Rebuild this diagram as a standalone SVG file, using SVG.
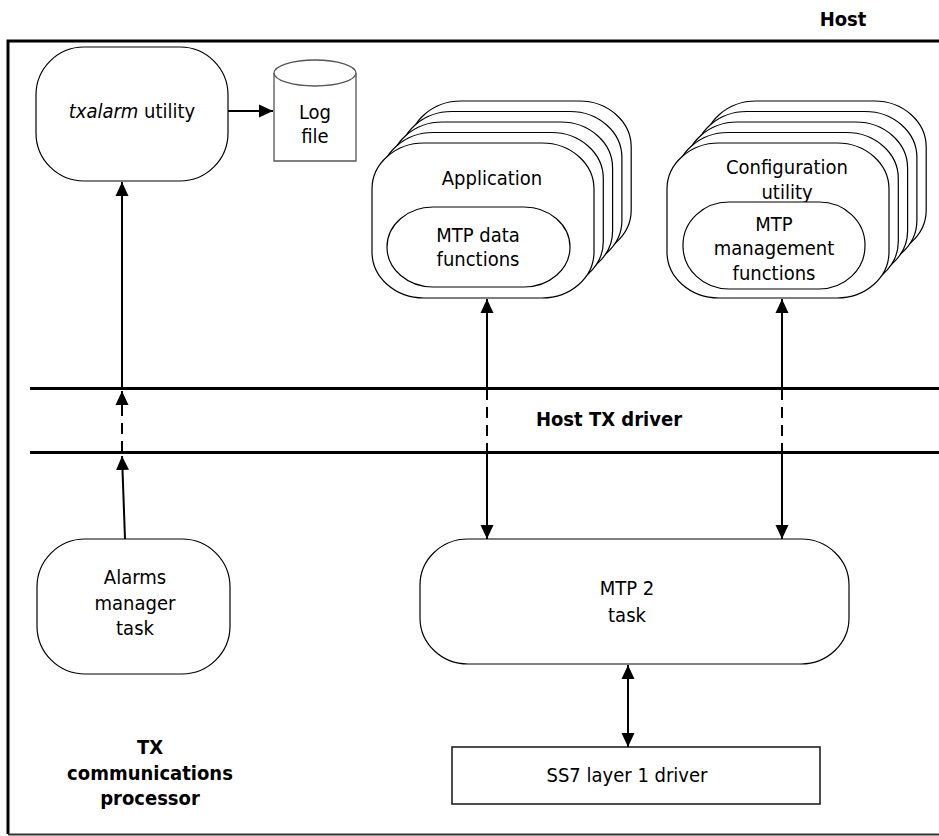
<svg xmlns="http://www.w3.org/2000/svg" width="939" height="836" viewBox="0 0 939 836">
<style>
text{font-family:"DejaVu Sans Condensed","DejaVu Sans","Liberation Sans",sans-serif;font-size:20px;fill:#000;text-anchor:middle}
.b{font-weight:bold}
.node{fill:#fff;stroke:#000;stroke-width:1.2}
.card{fill:#fff;stroke:#000;stroke-width:1.2}
.con{fill:none;stroke:#000;stroke-width:2}
.dash{stroke-dasharray:11 7}
.band{stroke:#000;stroke-width:3}
</style>
<defs>
<marker id="ah" markerUnits="userSpaceOnUse" viewBox="0 0 14 14" refX="14" refY="7" markerWidth="14" markerHeight="14" orient="auto-start-reverse">
<path d="M0,0.5 L14,7 L0,13.5 Z" fill="#000"/>
</marker>
</defs>
<rect x="0" y="0" width="939" height="836" fill="#fff"/>
<g id="frame">
<path d="M945,41 L8,41 L8,834" fill="none" stroke="#000" stroke-width="3"/>
<line x1="8" y1="834.5" x2="945" y2="834.5" stroke="#333" stroke-width="2"/>
<text class="b" x="843" y="26">Host</text>
</g>
<g id="host-tx-driver">
<line class="band" x1="30" y1="388.5" x2="939" y2="388.5"/>
<line class="band" x1="30" y1="452.5" x2="939" y2="452.5"/>
<text class="b" x="609" y="426">Host TX driver</text>
</g>
<g id="txalarm">
<rect class="node" x="36" y="47" width="192" height="134" rx="48" ry="48"/>
<text x="132" y="118"><tspan font-style="italic">txalarm</tspan> utility</text>
</g>
<g id="logfile">
<path d="M274,73 L274,161 L356,161 L356,73" fill="#fff" stroke="#555" stroke-width="1.3"/>
<ellipse cx="315" cy="73" rx="41" ry="13" fill="#fff" stroke="#555" stroke-width="1.3"/>
<text x="315" y="119">Log</text>
<text x="315" y="143">file</text>
</g>
<g id="application">
<rect class="card" x="409.2" y="101" width="222" height="155" rx="52" ry="46"/>
<rect class="card" x="399.9" y="111.5" width="222" height="155" rx="52" ry="46"/>
<rect class="card" x="390.6" y="122" width="222" height="155" rx="52" ry="46"/>
<rect class="card" x="381.3" y="132.5" width="222" height="155" rx="52" ry="46"/>
<rect class="card" x="372" y="143" width="222" height="155" rx="52" ry="46"/>
<text x="492" y="185">Application</text>
<rect class="node" x="387" y="207" width="183" height="80" rx="46" ry="40"/>
<text x="478" y="242">MTP data</text>
<text x="478" y="266">functions</text>
</g>
<g id="configuration">
<rect class="card" x="704.2" y="101" width="222" height="155" rx="52" ry="46"/>
<rect class="card" x="694.9" y="111.5" width="222" height="155" rx="52" ry="46"/>
<rect class="card" x="685.6" y="122" width="222" height="155" rx="52" ry="46"/>
<rect class="card" x="676.3" y="132.5" width="222" height="155" rx="52" ry="46"/>
<rect class="card" x="667" y="143" width="222" height="155" rx="52" ry="46"/>
<text x="787" y="174">Configuration</text>
<text x="787" y="199">utility</text>
<rect class="node" x="683" y="202" width="182" height="87" rx="46" ry="43"/>
<text x="774" y="231">MTP</text>
<text x="774" y="255">management</text>
<text x="774" y="280">functions</text>
</g>
<g id="alarms-manager">
<rect class="node" x="37" y="539" width="193" height="135" rx="48" ry="48"/>
<text x="135" y="584">Alarms</text>
<text x="135" y="610">manager</text>
<text x="135" y="635">task</text>
</g>
<g id="mtp2">
<rect class="node" x="420" y="539" width="429" height="125" rx="48" ry="46"/>
<text x="627" y="595">MTP 2</text>
<text x="627" y="622">task</text>
</g>
<g id="ss7">
<rect x="452" y="747" width="368" height="57" fill="#fff" stroke="#222" stroke-width="1.6"/>
<text x="627" y="782">SS7 layer 1 driver</text>
</g>
<g id="tx-label">
<text class="b" x="150" y="754">TX</text>
<text class="b" x="150" y="780">communications</text>
<text class="b" x="150" y="805">processor</text>
</g>
<g id="connectors">
<line class="con" x1="228" y1="111" x2="273" y2="111" marker-end="url(#ah)"/>
<line class="con" x1="125" y1="539" x2="122" y2="456" stroke-width="1.5" marker-end="url(#ah)"/>
<line class="con dash" x1="122" y1="452" x2="122" y2="391" marker-end="url(#ah)"/>
<line class="con" x1="122" y1="388" x2="122" y2="182" marker-end="url(#ah)"/>
<line class="con" x1="487" y1="299" x2="487" y2="388" marker-start="url(#ah)"/>
<line class="con dash" x1="487" y1="389" x2="487" y2="452"/>
<line class="con" x1="487" y1="453" x2="487" y2="539" marker-end="url(#ah)"/>
<line class="con" x1="782" y1="299" x2="782" y2="388" marker-start="url(#ah)"/>
<line class="con dash" x1="782" y1="389" x2="782" y2="452"/>
<line class="con" x1="782" y1="453" x2="782" y2="539" marker-end="url(#ah)"/>
<line class="con" x1="628" y1="665" x2="628" y2="747" marker-start="url(#ah)" marker-end="url(#ah)"/>
</g>
</svg>
